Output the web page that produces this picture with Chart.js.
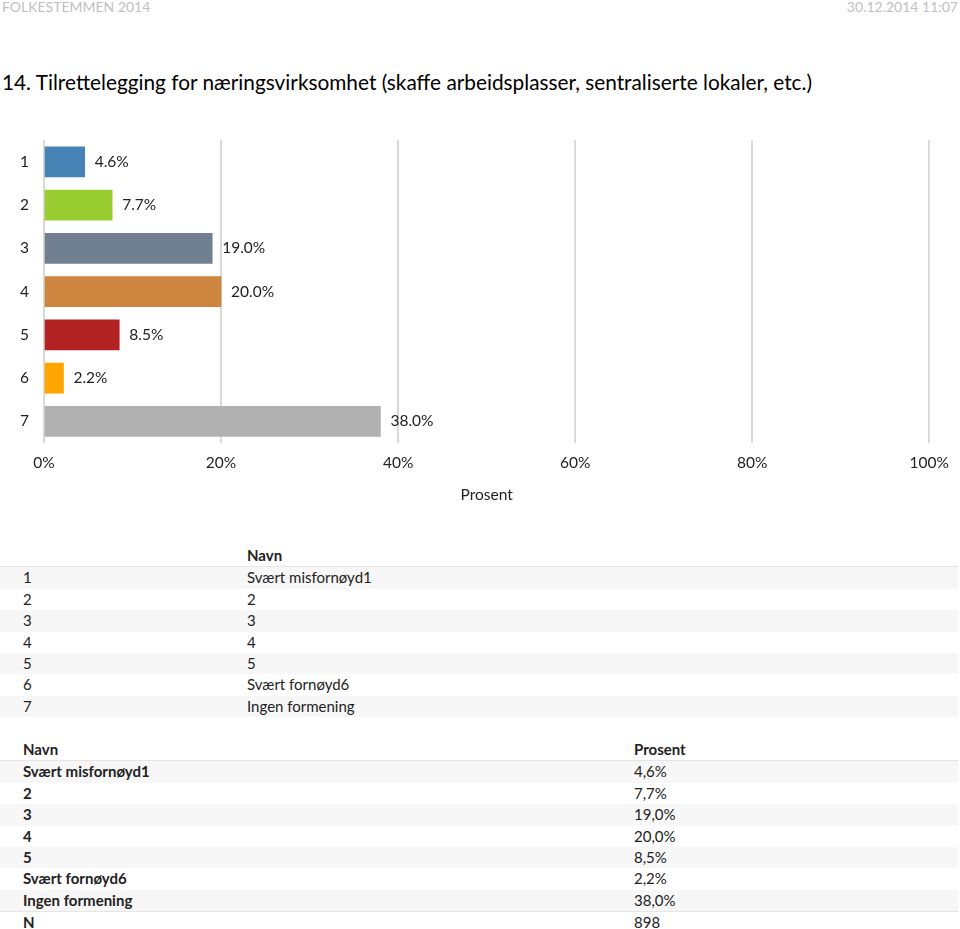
<!DOCTYPE html>
<html>
<head>
<meta charset="utf-8">
<script src="https://cdn.jsdelivr.net/npm/chart.js@4/dist/chart.umd.min.js"></script>
<style>
  html, body { margin: 0; padding: 0; background: #fff; }
  body { width: 960px; height: 929px; position: relative; overflow: hidden; font-family: Lato, "Liberation Sans", sans-serif; color: #222; }
  .hdr { position: absolute; top: -2px; font-size: 14px; color: #c0c0c0; }
  .title { position: absolute; left: 2px; top: 69px; font-size: 20.8px; color: #000; white-space: nowrap; }
  #wrap { position: absolute; left: 0; top: 116px; width: 960px; height: 394px; }
  table { position: absolute; left: 0; width: 958px; border-collapse: collapse; font-size: 15px; }
  td, th { height: 21.4px; padding: 0; text-align: left; line-height: 21.4px; white-space: nowrap; }
  th { font-weight: bold; }
  tr.head { border-bottom: 1px solid #e6e6e6; }
  tr.s td { background: #f7f7f7; }
  tr.n { border-top: 1px solid #e6e6e6; }
  #t1 { top: 545px; }
  #t2 { top: 739px; }
  #t2 td.b { font-weight: bold; }
</style>
</head>
<body>
<div class="hdr" style="left:2px">FOLKESTEMMEN 2014</div>
<div class="hdr" style="right:2px">30.12.2014 11:07</div>
<div class="title">14. Tilrettelegging for næringsvirksomhet (skaffe arbeidsplasser, sentraliserte lokaler, etc.)</div>
<div id="wrap"><canvas id="c" width="960" height="394"></canvas></div>
<table id="t1"></table>
<table id="t2"></table>
<script>
const categories = ["1", "2", "3", "4", "5", "6", "7"];
const names = ["Svært misfornøyd1", "2", "3", "4", "5", "Svært fornøyd6", "Ingen formening"];
const percent = [4.6, 7.7, 19.0, 20.0, 8.5, 2.2, 38.0];
const barColors = ["#4682B4", "#9ACD32", "#708090", "#CD853F", "#B22222", "#FFA500", "#B0B0B0"];
const xTicks = [0, 20, 40, 60, 80, 100];
const totalN = 898;

// tables
const t1 = document.getElementById('t1');
let h1 = '<tr class="head"><td style="width:247px"></td><th>Navn</th></tr>';
categories.forEach((c, i) => {
  h1 += '<tr class="' + (i % 2 === 0 ? 's' : '') + '"><td style="padding-left:23px">' + c + '</td><td>' + names[i] + '</td></tr>';
});
t1.innerHTML = h1;

const t2 = document.getElementById('t2');
let h2 = '<tr class="head"><th style="width:611px;padding-left:23px">Navn</th><th>Prosent</th></tr>';
names.forEach((n, i) => {
  h2 += '<tr class="' + (i % 2 === 0 ? 's' : '') + '"><td class="b" style="padding-left:23px">' + n + '</td><td>' + percent[i].toFixed(1).replace('.', ',') + '%</td></tr>';
});
h2 += '<tr class="n"><td class="b" style="padding-left:23px">N</td><td>' + totalN + '</td></tr>';
t2.innerHTML = h2;

const valueLabels = {
  id: 'valueLabels',
  afterDatasetsDraw(chart) {
    const ctx = chart.ctx;
    const meta = chart.getDatasetMeta(0);
    ctx.save();
    ctx.font = '15.5px Lato, "Liberation Sans", sans-serif';
    ctx.fillStyle = '#222';
    ctx.textAlign = 'left';
    ctx.textBaseline = 'middle';
    meta.data.forEach((bar, i) => {
      ctx.fillText(percent[i].toFixed(1) + '%', bar.x + 10, bar.y);
    });
    ctx.restore();
  }
};

new Chart(document.getElementById('c'), {
  type: 'bar',
  data: {
    labels: categories,
    datasets: [{
      data: percent,
      backgroundColor: barColors,
      borderWidth: 0,
      barThickness: 30
    }]
  },
  options: {
    indexAxis: 'y',
    responsive: false,
    animation: false,
    layout: { padding: { left: 0, right: 28, top: 10, bottom: 0 } },
    plugins: { legend: { display: false }, tooltip: { enabled: false } },
    scales: {
      x: {
        min: 0, max: 100,
        afterBuildTicks(axis) { axis.ticks = xTicks.map(v => ({ value: v })); },
        afterFit(axis) { axis.height = 67; },
        grid: { color: '#d9d9d9', lineWidth: 2, drawTicks: false },
        border: { display: false },
        ticks: {
          padding: 11,
          color: '#222',
          font: { size: 15.5, family: 'Lato, "Liberation Sans", sans-serif' },
          callback: v => v + '%'
        },
        title: {
          display: true,
          text: 'Prosent',
          color: '#222',
          padding: { top: 0, bottom: 6 },
          font: { size: 15.5, family: 'Lato, "Liberation Sans", sans-serif' }
        }
      },
      y: {
        afterFit(axis) { axis.width = 44; },
        grid: { display: false, drawTicks: false },
        border: { display: false },
        ticks: {
          padding: 15,
          color: '#222',
          font: { size: 15.5, family: 'Lato, "Liberation Sans", sans-serif' }
        }
      }
    }
  },
  plugins: [valueLabels]
});
</script>
</body>
</html>
